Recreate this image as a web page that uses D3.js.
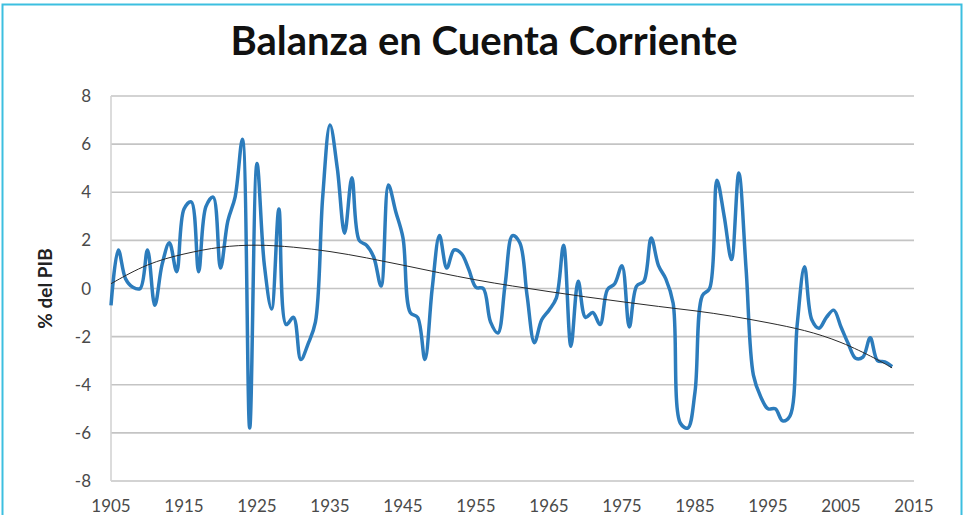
<!DOCTYPE html>
<html>
<head>
<meta charset="utf-8">
<script src="https://cdn.jsdelivr.net/npm/d3@7"></script>
<style>
  body { margin: 0; background: #fff; }
  svg { display: block; }
</style>
</head>
<body>
<svg id="chart"></svg>
<script>
const years = d3.range(1905, 2013)

// balanza en cuenta corriente, % del PIB (1905-2012)
const balanza = [
  -0.7, 1.6, 0.4, 0.05, 0.0, 1.6, -0.7, 1.0, 1.9, 0.7,
  3.3, 3.6, 0.7, 3.4, 3.8, 0.85, 2.8, 3.8, 6.2, -5.8,
  5.2, 1.0, -0.85, 3.3, -1.5, -1.2, -2.95, -2.3, -1.4, 3.8,
  6.8, 5.0, 2.3, 4.6, 2.0, 1.8, 1.3, 0.1, 4.3, 3.2,
  2.1, -1.0, -1.2, -2.95, 0.0, 2.2, 0.85, 1.6, 1.45, 0.8,
  0.05, 0.0, -1.4, -1.85, 0.2, 2.2, 1.9, -0.3, -2.25, -1.3,
  -0.9, -0.4, 1.8, -2.4, 0.3, -1.2, -1.0, -1.5, -0.05, 0.2,
  0.95, -1.6, 0.1, 0.3, 2.1, 0.95, 0.4, -0.6, -5.6, -5.8,
  -4.3, -0.3, 0.0, 4.5, 3.0, 1.2, 4.8, 0.8, -3.6, -4.5,
  -5.0, -5.0, -5.5, -5.3, -1.5, 0.9, -1.3, -1.65, -1.2, -0.9,
  -1.6, -2.3, -2.9, -2.85, -2.05, -3.0, -3.05, -3.25
]

// linea de tendencia
const trendYears = [1905, 1910, 1915, 1920, 1925, 1930, 1935, 1940, 1945, 1950, 1955, 1960,
  1965, 1970, 1975, 1980, 1985, 1990, 1995, 2000, 2005, 2010, 2012]
const trendValues = [0.2, 1.05, 1.45, 1.75, 1.83, 1.73, 1.55, 1.28, 0.97, 0.65, 0.35, 0.1,
  -0.13, -0.35, -0.55, -0.75, -0.92, -1.14, -1.42, -1.72, -2.2, -2.95, -3.3]

const xTicks = d3.range(1905, 2016, 10)
const yTicks = d3.range(-8, 9, 2)

const width = 965,
    height = 515

const svg = d3.select("#chart")
    .attr("width", width)
    .attr("height", height)

// marco cian del recuadro
svg.append("rect")
    .attr("x", 2.5).attr("y", 4.5)
    .attr("width", 959).attr("height", 520)
    .attr("fill", "none")
    .attr("stroke", "#3cbfe0")
    .attr("stroke-width", 2)

const x = d3.scaleLinear().domain([1905, 2015]).range([111, 914])
const y = d3.scaleLinear().domain([-8, 8]).range([481, 96])

// gridlines
svg.append("g")
    .selectAll("line")
    .data(yTicks)
    .join("line")
    .attr("x1", x(1905)).attr("x2", x(2015))
    .attr("y1", d => y(d)).attr("y2", d => y(d))
    .attr("stroke", "#c4c4c4")
    .attr("stroke-width", 1.6)

svg.append("line")
    .attr("x1", x(1905)).attr("x2", x(1905))
    .attr("y1", y(8)).attr("y2", y(-8))
    .attr("stroke", "#d4d4d4")
    .attr("stroke-width", 1.6)

// y tick labels
svg.append("g")
    .selectAll("text")
    .data(yTicks)
    .join("text")
    .attr("x", 91)
    .attr("y", d => y(d) + 6)
    .attr("text-anchor", "end")
    .attr("font-family", "Lato, 'Open Sans', sans-serif")
    .attr("font-size", 17)
    .attr("fill", "#4a4a4a")
    .text(d => d)

// x tick labels
svg.append("g")
    .selectAll("text")
    .data(xTicks)
    .join("text")
    .attr("x", d => x(d))
    .attr("y", 512)
    .attr("text-anchor", "middle")
    .attr("font-family", "Lato, 'Open Sans', sans-serif")
    .attr("font-size", 17)
    .attr("fill", "#4a4a4a")
    .text(d => d)

// y axis title
svg.append("text")
    .attr("transform", "translate(52," + y(0) + ") rotate(-90)")
    .attr("text-anchor", "middle")
    .attr("font-family", "Lato, 'Open Sans', sans-serif")
    .attr("font-weight", "bold")
    .attr("font-size", 19)
    .attr("fill", "#222")
    .text("% del PIB")

// title
svg.append("text")
    .attr("x", 484)
    .attr("y", 55)
    .attr("text-anchor", "middle")
    .attr("font-family", "Lato, 'Open Sans', sans-serif")
    .attr("font-weight", "bold")
    .attr("font-size", 40)
    .attr("fill", "#111")
    .text("Balanza en Cuenta Corriente")

const line = d3.line()
    .x(d => x(d[0]))
    .y(d => y(d[1]))
    .curve(d3.curveCatmullRom.alpha(0.5))

svg.append("path")
    .datum(years.map((yr, i) => [yr, balanza[i]]))
    .attr("fill", "none")
    .attr("stroke", "#2c7cbc")
    .attr("stroke-width", 3.5)
    .attr("stroke-linejoin", "round")
    .attr("d", line)

svg.append("path")
    .datum(trendYears.map((yr, i) => [yr, trendValues[i]]))
    .attr("fill", "none")
    .attr("stroke", "#2a2a2a")
    .attr("stroke-width", 1)
    .attr("d", line.curve(d3.curveBasis))
</script>
</body>
</html>
